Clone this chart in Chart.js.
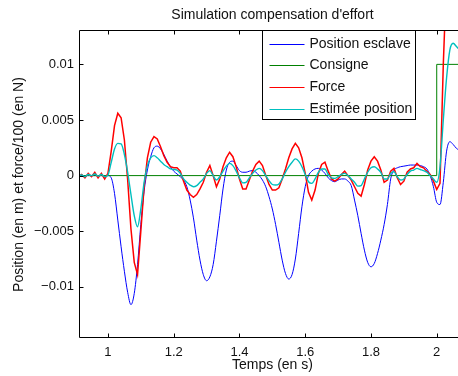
<!DOCTYPE html>
<html>
<head>
<meta charset="utf-8">
<script src="https://cdn.jsdelivr.net/npm/chart.js@4"></script>
<style>
  html, body { margin: 0; padding: 0; background: #fff; }
  #cadre { width: 458px; height: 376px; overflow: hidden; }
  canvas { display: block; }
</style>
</head>
<body>
<div id="cadre"><canvas id="graphique" width="470" height="376" style="width:470px;height:376px"></canvas></div>
<script>
// Temps (en s)
const temps = [
  0.91, 0.92, 0.93, 0.94, 0.95, 0.96, 0.97, 0.98, 0.99, 1.00,
  1.01, 1.02, 1.03, 1.04, 1.05, 1.06, 1.07, 1.08, 1.09, 1.10,
  1.11, 1.12, 1.13, 1.14, 1.15, 1.16, 1.17, 1.18, 1.19, 1.20,
  1.21, 1.22, 1.23, 1.24, 1.25, 1.26, 1.27, 1.28, 1.29, 1.30,
  1.31, 1.32, 1.33, 1.34, 1.35, 1.36, 1.37, 1.38, 1.39, 1.40,
  1.41, 1.42, 1.43, 1.44, 1.45, 1.46, 1.47, 1.48, 1.49, 1.50,
  1.51, 1.52, 1.53, 1.54, 1.55, 1.56, 1.57, 1.58, 1.59, 1.60,
  1.61, 1.62, 1.63, 1.64, 1.65, 1.66, 1.67, 1.68, 1.69, 1.70,
  1.71, 1.72, 1.73, 1.74, 1.75, 1.76, 1.77, 1.78, 1.79, 1.80,
  1.81, 1.82, 1.83, 1.84, 1.85, 1.86, 1.87, 1.88, 1.89, 1.90,
  1.91, 1.92, 1.93, 1.94, 1.95, 1.96, 1.97, 1.98, 1.99, 2.00,
  2.01, 2.02, 2.03, 2.04, 2.05, 2.06, 2.07, 2.08, 2.09
];

// Position esclave (en m)
const positionEsclave = [
  0, 0, 0, 0, 0, 0, 0, 0, 0, 0,
  -0.0002, -0.0016, -0.004, -0.0064, -0.0086, -0.0105, -0.0116, -0.0106, -0.008, -0.0044,
  -0.0014, 0.0005, 0.0017, 0.0025, 0.00265, 0.0024, 0.0019, 0.0013, 0.0008, 0.0004,
  0.00015, -0.0001, -0.0004, -0.001, -0.0022, -0.0038, -0.0058, -0.0076, -0.0089, -0.00945,
  -0.0091, -0.008, -0.0059, -0.0036, -0.0012, 0.0005, 0.0012, 0.0013, 0.0009, 0.00045,
  0.0003, 0.0003, 0.0004, 0.00045, 0.0003, 0, -0.0004, -0.001, -0.0019, -0.003,
  -0.0044, -0.006, -0.0076, -0.0088, -0.0093, -0.0089, -0.0075, -0.0052, -0.0028, -0.001,
  0, 0.0004, 0.0006, 0.00065, 0.0005, 0.0002, -0.0002, -0.00045, -0.00055, -0.0004,
  -0.0003, -0.0003, -0.0005, -0.0009, -0.0022, -0.0036, -0.0052, -0.0067, -0.0078, -0.0082,
  -0.0079, -0.007, -0.0058, -0.0044, -0.0026, -0.0003, 0.0005, 0.0007, 0.0008, 0.00085,
  0.0009, 0.00095, 0.00095, 0.00095, 0.0009, 0.0008, 0.0006, 0, -0.001, -0.0024,
  -0.0026, -0.0006, 0.0022, 0.00305, 0.0028, 0.00245, 0.0023, 0.0023, 0.0023
];

// Force (force/100, en N)
const force = [
  -0.0001, 0.0001, -0.0002, 0.0002, -0.0001, 0.0003, -0.0002, 0.0002, -0.0003, 0.0002,
  0.0022, 0.0045, 0.0056, 0.0052, 0.0032, -0.0004, -0.0048, -0.0078, -0.0089, -0.005,
  -0.001, 0.0016, 0.003, 0.0035, 0.0033, 0.0026, 0.0018, 0.0012, 0.0008, 0.0007,
  0.0007, 0.0004, -0.0005, -0.0013, -0.0017, -0.00195, -0.0017, -0.0012, -0.0006, 0.0003,
  0.0009, 0, -0.001, -0.0003, 0.0008, 0.0016, 0.0021, 0.0017, 0.0008, -0.0003,
  -0.0012, -0.0012, -0.0004, 0.0004, 0.001, 0.0013, 0.0009, 0, -0.0008, -0.0013,
  -0.0013, -0.0011, -0.0003, 0.0006, 0.0016, 0.0024, 0.0029, 0.0025, 0.0016, 0.0002,
  -0.0015, -0.0022, -0.0013, 0.0002, 0.001, 0.0012, 0.0004, -0.0003, -0.0005, -0.0003,
  0.0001, 0.0004, 0, -0.0004, -0.001, -0.0016, -0.00185, -0.0008, 0.0005, 0.0013,
  0.0017, 0.0013, 0.0005, -0.0006, -0.0004, 0.0004, 0.00065, -0.0002, -0.0008, -0.0005,
  0.0003, 0.0006, 0.0007, 0.0011, 0.0008, 0.0007, 0.0004, 0.0001, -0.0005, -0.00125,
  -0.0007, 0.01, 0.018, 0.022, 0.024, 0.025, 0.025, 0.025, 0.025
];

// Estimée position (en m)
const estimeePosition = [
  0, 0.00005, -0.0001, 0.0001, 0, 0.00015, -0.00005, 0.0001, -0.0001, 0.00005,
  0.0012, 0.0024, 0.0029, 0.00285, 0.0019, 0.0003, -0.0017, -0.0036, -0.0046, -0.003,
  -0.0006, 0.0009, 0.0016, 0.0018, 0.0016, 0.0013, 0.001, 0.0008, 0.0006, 0.00055,
  0.0005, 0.0002, -0.0003, -0.0006, -0.00085, -0.001, -0.0009, -0.0006, -0.0003, 0.0002,
  0.00045, 0, -0.0004, -0.0001, 0.0004, 0.00085, 0.0011, 0.0009, 0.0004, -0.0002,
  -0.00065, -0.0006, -0.0002, 0.0002, 0.0005, 0.00065, 0.00045, 0, -0.00045, -0.0008,
  -0.00085, -0.00075, -0.0003, 0.0003, 0.0008, 0.0012, 0.0015, 0.0013, 0.0008, 0.0001,
  -0.00055, -0.0007, -0.0003, 0.0003, 0.0006, 0.0006, 0.0001, -0.0002, -0.00025, -0.0001,
  0.0001, 0.0002, 0, -0.0003, -0.0006, -0.00095, -0.0009, -0.0003, 0.0003, 0.0007,
  0.0008, 0.0006, 0.0003, -0.0003, -0.0003, 0.0002, 0.00035, -0.0001, -0.0004, -0.0003,
  0.0001, 0.0004, 0.0005, 0.00065, 0.00055, 0.00045, 0.0003, 0, -0.0003, -0.0006,
  0.0008, 0.005, 0.0088, 0.0113, 0.0119, 0.0116, 0.0113, 0.0111, 0.011
];

// Consigne : échelon à t = 2 s
const consigneTemps = [0.91, 2.0, 2.0, 2.09];
const consigneValeurs = [0, 0, 0.01, 0.01];

const ticksX = [1, 1.2, 1.4, 1.6, 1.8, 2];
const ticksY = [-0.01, -0.005, 0, 0.005, 0.01];

const points = (xs, ys) => xs.map((x, i) => ({ x: x, y: ys[i] }));

const police = "'Liberation Sans', Arial, Helvetica, sans-serif";
const noir = "#111";

// cadre façon Matlab : traits autour du tracé et graduations vers l'intérieur
const cadreMatlab = {
  id: "cadreMatlab",
  afterDatasetsDraw(chart) {
    const { ctx, chartArea: a, scales } = chart;
    const L = Math.round(a.left) - 0.5, R = Math.round(a.right) - 0.5;
    const T = Math.round(a.top) - 0.5, B = Math.round(a.bottom) - 0.5;
    ctx.save();
    ctx.strokeStyle = "#000";
    ctx.lineWidth = 1;
    ctx.beginPath();
    ctx.moveTo(L, T); ctx.lineTo(R, T); ctx.lineTo(R, B); ctx.lineTo(L, B); ctx.closePath();
    ticksX.forEach((v) => {
      const px = Math.round(scales.x.getPixelForValue(v)) + 0.5;
      ctx.moveTo(px, B); ctx.lineTo(px, B - 4);
      ctx.moveTo(px, T); ctx.lineTo(px, T + 4);
    });
    ticksY.forEach((v) => {
      const py = Math.round(scales.y.getPixelForValue(v)) + 0.5;
      ctx.moveTo(L, py); ctx.lineTo(L + 4, py);
      ctx.moveTo(R, py); ctx.lineTo(R - 4, py);
    });
    ctx.stroke();
    ctx.restore();
  }
};

// légende encadrée dans le coin haut droit du tracé
const legendeMatlab = {
  id: "legendeMatlab",
  afterDraw(chart) {
    const { ctx, chartArea: a } = chart;
    const x0 = Math.round(a.right) - 202.5, y0 = Math.round(a.top) - 0.5;
    const w = 153, h = 89;
    ctx.save();
    ctx.fillStyle = "#fff";
    ctx.fillRect(x0, y0, w, h);
    ctx.strokeStyle = "#000";
    ctx.lineWidth = 1;
    ctx.strokeRect(x0, y0, w, h);
    ctx.font = "14px " + police;
    ctx.textBaseline = "middle";
    ctx.textAlign = "left";
    chart.data.datasets.forEach((ds, i) => {
      const y = Math.round(y0 + 13 + i * 21.7) + 0.5;
      ctx.strokeStyle = ds.borderColor;
      ctx.lineWidth = 1;
      ctx.beginPath();
      ctx.moveTo(x0 + 7, y);
      ctx.lineTo(x0 + 42, y);
      ctx.stroke();
      ctx.fillStyle = noir;
      ctx.fillText(ds.label, x0 + 47, y);
    });
    ctx.restore();
  }
};

const fmt = (v, dec) => {
  if (Math.abs(v) < 1e-12) return "0";
  return String(parseFloat(v.toFixed(dec))).replace("-", "\u2212");
};

new Chart(document.getElementById("graphique"), {
  type: "line",
  data: {
    datasets: [
      {
        label: "Position esclave",
        data: points(temps, positionEsclave),
        borderColor: "rgb(0,0,255)",
        borderWidth: 1,
        cubicInterpolationMode: "monotone",
        order: 4,
      },
      {
        label: "Consigne",
        data: points(consigneTemps, consigneValeurs),
        borderColor: "rgb(0,128,0)",
        borderWidth: 1,
        tension: 0,
        order: 3,
      },
      {
        label: "Force",
        data: points(temps, force),
        borderColor: "rgb(255,0,0)",
        borderWidth: 1.5,
        tension: 0,
        order: 2,
      },
      {
        label: "Estimée position",
        data: points(temps, estimeePosition),
        borderColor: "rgb(0,191,191)",
        borderWidth: 1.4,
        cubicInterpolationMode: "monotone",
        order: 1,
      },
    ],
  },
  options: {
    responsive: false,
    animation: false,
    devicePixelRatio: 1,
    layout: { padding: { left: 0, right: 5, top: 0, bottom: 0 } },
    elements: { point: { radius: 0 } },
    plugins: {
      legend: { display: false },
      tooltip: { enabled: false },
      title: {
        display: true,
        text: "Simulation compensation d'effort",
        fullSize: false,
        color: noir,
        font: { family: police, size: 14, weight: "normal" },
        padding: { top: 6.6, bottom: 7.6 },
      },
    },
    scales: {
      x: {
        type: "linear",
        min: 0.915,
        max: 2.086,
        grid: { display: false, drawTicks: false },
        border: { display: false },
        afterFit: (s) => { s.height = 38; },
        afterBuildTicks: (s) => { s.ticks = ticksX.map((v) => ({ value: v })); },
        ticks: {
          color: noir,
          padding: 7,
          maxRotation: 0,
          font: { family: police, size: 13 },
          callback: (v) => fmt(v, 3),
        },
        title: {
          display: true,
          text: "Temps (en s)",
          color: noir,
          font: { family: police, size: 14 },
          padding: { top: 0, bottom: 2.6 },
        },
      },
      y: {
        type: "linear",
        min: -0.0146,
        max: 0.013,
        grid: { display: false, drawTicks: false },
        border: { display: false },
        afterFit: (s) => { s.width = 80; },
        afterBuildTicks: (s) => { s.ticks = ticksY.map((v) => ({ value: v })); },
        ticks: {
          color: noir,
          padding: 6,
          font: { family: police, size: 13 },
          callback: (v) => fmt(v, 4),
        },
        title: {
          display: true,
          text: "Position (en m) et force/100 (en N)",
          color: noir,
          font: { family: police, size: 14 },
          padding: { top: 10.6, bottom: 0 },
        },
      },
    },
  },
  plugins: [cadreMatlab, legendeMatlab],
});
</script>
</body>
</html>
